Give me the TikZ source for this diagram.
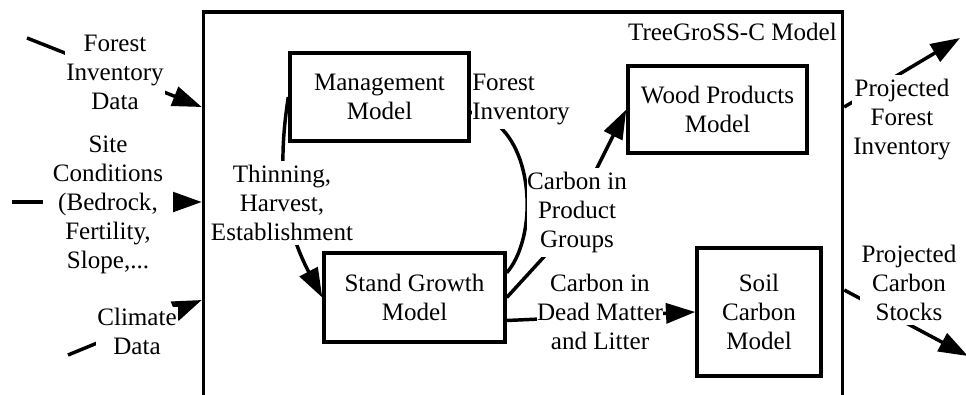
\documentclass[tikz,border=0pt]{standalone}
\usepackage{fontspec}
\setmainfont{Liberation Serif}
\usetikzlibrary{arrows.meta}
\newcommand\dgfont{\fontsize{18.8pt}{21.75pt}\selectfont}
\begin{document}
\begin{tikzpicture}[x=0.75pt,y=-0.75pt, font=\dgfont,
  box/.style={draw, line width=2.6pt, align=center, inner sep=0pt},
  lbl/.style={fill=white, align=center, inner xsep=1pt, inner ysep=3pt},
  link/.style={line width=2.6pt},
  flow/.style={link, -{Triangle[length=22pt,width=15pt]}}]
\useasboundingbox (0,0) rectangle (966,394);
\clip (0,0) rectangle (966,394);

% model frame (runs past the lower edge)
\node[box, minimum width=479.25pt, minimum height=306pt] (tg) at (523,216) {};
\node[anchor=base east, inner sep=0pt] (title) at (837,40) {TreeGroSS-C Model};

% sub-models
\node[box, minimum width=134.25pt, minimum height=66pt] (mg) at (379.5,97) {Management\\Model};
\node[box, minimum width=135.75pt, minimum height=66.75pt] (sg) at (414.5,297.5) {Stand Growth\\Model};
\node[box, minimum width=134.25pt, minimum height=65.25pt] (wp) at (717.5,109.5) {Wood Products\\Model};
\node[box, minimum width=93pt, minimum height=96pt] (sl) at (759,312) {Soil\\Carbon\\Model};

% free ends of the external flows
\coordinate (fidS) at (27,38);
\coordinate (scS) at (12,202);
\coordinate (cdS) at (68,355);
\coordinate (pfiE) at (960,38);
\coordinate (pcsE) at (968,356);

% inputs
\draw[flow] (fidS) -- (tg.west |- 0,107);
\draw[flow] (scS) -- (tg.west |- 0,202);
\draw[flow] (cdS) -- (tg.west |- 0,300);

% outputs
\draw[flow] (tg.east |- 0,107) -- (pfiE);
\draw[flow] (tg.east |- 0,290) -- (pcsE);

% internal flows
\draw[flow] (mg.west) .. controls (281,145) and (276,210) .. (sg.west);
\draw[link] (sg.15) .. controls (535,240) and (535,160) .. (500,127) -- (mg.east |- 0,112);
\draw[flow] (sg.east) -- (563,236) -- (wp.west);
\draw[flow] (sg.-14) -- (sl.west);

% flow labels
\node[lbl] (fidL) at (115,72.75) {Forest\\Inventory\\Data};
\node[lbl, minimum width=97.5pt] (scL) at (108,204.9) {Site\\Conditions\\(Bedrock,\\Fertility,\\Slope,...};
\node[lbl, inner sep=1pt] (cdL) at (137,331.75) {Climate\\Data};
\node[lbl] (thL) at (282,202.75) {Thinning,\\Harvest,\\Establishment};
\node[lbl, align=left, anchor=west, inner xsep=0pt] (fiL) at (472,99.95) {Forest\\Inventory};
\node[lbl, inner xsep=0pt] (cpL) at (577,212.45) {Carbon in\\Product\\Groups};
\node[lbl, inner xsep=0pt] (cdmL) at (600,312.25) {Carbon in\\Dead Matter\\and Litter};
\node[lbl] (pfiL) at (902,119.45) {Projected\\Forest\\Inventory};
\node[lbl] (pcsL) at (909,282.75) {Projected\\Carbon\\Stocks};
\end{tikzpicture}
\end{document}
